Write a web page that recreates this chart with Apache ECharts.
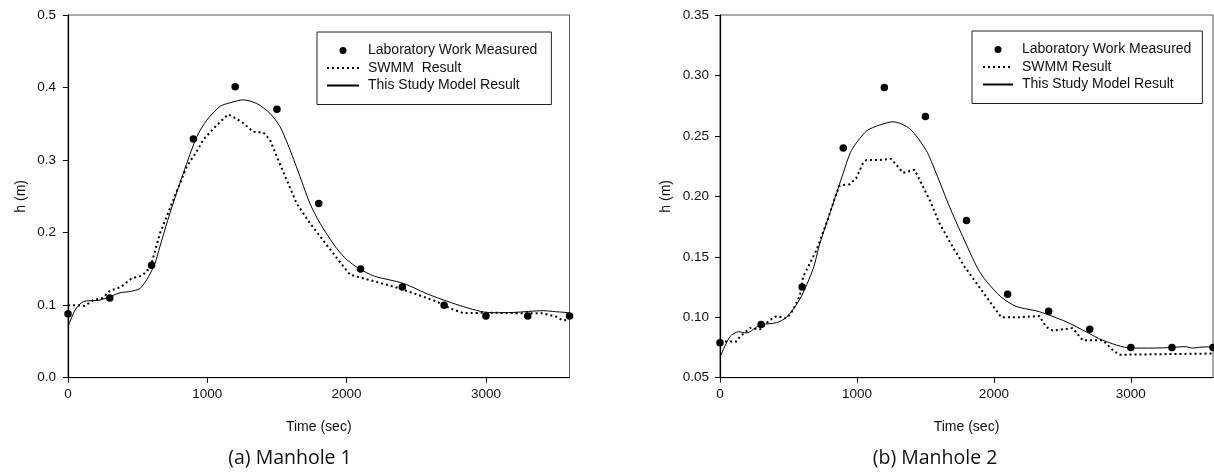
<!DOCTYPE html>
<html>
<head>
<meta charset="utf-8">
<script src="https://cdn.jsdelivr.net/npm/echarts@6/dist/echarts.min.js"></script>
<style>
html,body{margin:0;padding:0;background:#fff;}
#c{width:1214px;height:472px;}
</style>
</head>
<body>
<div id="c"></div>
<script>
// ---------- Manhole 1 ----------
const m1MeasTime = [0, 300, 600, 900, 1200, 1500, 1800, 2100, 2400, 2700, 3000, 3300, 3600];
const m1Meas     = [0.088, 0.110, 0.155, 0.329, 0.401, 0.370, 0.240, 0.150, 0.125, 0.100, 0.085, 0.085, 0.085];

const m1SwmmTime = [0, 60, 120, 182, 250, 301, 380, 457, 520, 565, 601, 660, 756, 852, 924, 971, 1067, 1150, 1200, 1258, 1330, 1402, 1450, 1498, 1570, 1642, 1737, 1857, 1950, 2024, 2100, 2216, 2383, 2500, 2647, 2750, 2838, 3029, 3200, 3400, 3508, 3550, 3600];
const m1Swmm     = [0.100, 0.100, 0.099, 0.107, 0.110, 0.120, 0.125, 0.137, 0.140, 0.146, 0.158, 0.199, 0.245, 0.291, 0.312, 0.328, 0.348, 0.363, 0.358, 0.351, 0.339, 0.338, 0.328, 0.305, 0.2725, 0.240, 0.213, 0.183, 0.160, 0.142, 0.138, 0.132, 0.123, 0.115, 0.105, 0.095, 0.089, 0.0896, 0.089, 0.089, 0.084, 0.079, 0.080];

const m1ModelTime = [0, 50, 110, 230, 373, 450, 517, 577, 625, 660, 732, 828, 924, 996, 1091, 1163, 1258, 1355, 1450, 1522, 1594, 1666, 1737, 1809, 1929, 2000, 2084, 2200, 2407, 2599, 2838, 3029, 3200, 3412, 3500, 3600];
const m1Model     = [0.070, 0.093, 0.105, 0.107, 0.117, 0.119, 0.123, 0.139, 0.158, 0.181, 0.227, 0.282, 0.332, 0.355, 0.374, 0.379, 0.383, 0.378, 0.3645, 0.346, 0.314, 0.277, 0.240, 0.213, 0.178, 0.163, 0.151, 0.140, 0.130, 0.114, 0.098, 0.0896, 0.090, 0.0924, 0.091, 0.0896];

// ---------- Manhole 2 ----------
const m2MeasTime = [0, 300, 600, 900, 1200, 1500, 1800, 2100, 2400, 2700, 3000, 3300, 3600];
const m2Meas     = [0.079, 0.094, 0.125, 0.240, 0.290, 0.266, 0.180, 0.119, 0.105, 0.090, 0.075, 0.075, 0.075];

const m2SwmmTime = [0, 121, 146, 219, 292, 364, 413, 486, 534, 583, 607, 705, 778, 850, 875, 948, 994, 1042, 1069, 1166, 1251, 1288, 1336, 1421, 1458, 1531, 1603, 1700, 1785, 1944, 2053, 2174, 2332, 2381, 2430, 2575, 2648, 2794, 2867, 2915, 3600];
const m2Swmm     = [0.080, 0.080, 0.084, 0.091, 0.090, 0.0977, 0.101, 0.099, 0.106, 0.118, 0.1335, 0.1556, 0.178, 0.2025, 0.209, 0.210, 0.215, 0.227, 0.230, 0.230, 0.231, 0.226, 0.2195, 0.222, 0.2135, 0.197, 0.1777, 0.158, 0.142, 0.117, 0.100, 0.100, 0.101, 0.092, 0.089, 0.091, 0.081, 0.081, 0.073, 0.069, 0.070];

const m2ModelTime = [0, 73, 134, 194, 292, 413, 486, 583, 680, 729, 826, 899, 960, 1069, 1166, 1263, 1385, 1506, 1579, 1676, 1773, 1883, 1944, 2050, 2162, 2332, 2527, 2673, 2794, 3000, 3158, 3300, 3397, 3450, 3490, 3550, 3600];
const m2Model     = [0.067, 0.084, 0.088, 0.087, 0.0936, 0.0955, 0.100, 0.115, 0.140, 0.161, 0.194, 0.219, 0.238, 0.254, 0.259, 0.2617, 0.256, 0.238, 0.219, 0.1914, 0.1666, 0.140, 0.130, 0.117, 0.109, 0.1046, 0.0963, 0.088, 0.081, 0.0745, 0.0745, 0.075, 0.0757, 0.0745, 0.075, 0.0755, 0.075];

// ---------- labels ----------
const xTicks = [0, 1000, 2000, 3000];
const names1 = ['Laboratory Work Measured', 'SWMM  Result', 'This Study Model Result'];
const names2 = ['Laboratory Work Measured', 'SWMM Result', 'This Study Model Result'];
const captions = ['(a) Manhole 1', '(b) Manhole 2'];
const xTitle = 'Time (sec)';
const yTitle = 'h (m)';

const zip = (a, b) => a.map((v, i) => [v, b[i]]);

const FONT = 'Liberation Sans, Arial, sans-serif';
const axisText = { fontFamily: FONT, fontSize: 13.5, color: '#111' };

function xAxisFor(gi) {
  return {
    type: 'value', gridIndex: gi, min: 0, max: 3600, interval: 1000,
    name: xTitle, nameLocation: 'middle', nameGap: 42,
    nameTextStyle: { fontFamily: FONT, fontSize: 14, color: '#111' },
    axisLine: { show: true, onZero: false, lineStyle: { color: '#000', width: 1.2 } },
    axisTick: { show: true, length: 5, lineStyle: { color: '#000' }, customValues: xTicks },
    axisLabel: Object.assign({ margin: 10, customValues: xTicks, formatter: v => String(v) }, axisText),
    splitLine: { show: false }
  };
}
function yAxisFor(gi, min, max, interval, digits, gap, lmargin) {
  return {
    type: 'value', gridIndex: gi, min: min, max: max, interval: interval,
    name: yTitle, nameLocation: 'middle', nameGap: gap,
    nameTextStyle: { fontFamily: FONT, fontSize: 14, color: '#111' },
    axisLine: { show: true, onZero: false, lineStyle: { color: '#000', width: 1.2 } },
    axisTick: { show: true, length: 5, lineStyle: { color: '#000' } },
    axisLabel: Object.assign({ margin: lmargin, formatter: v => v.toFixed(digits) }, axisText),
    splitLine: { show: false }
  };
}

function seriesFor(gi, names, measT, meas, swT, sw, moT, mo) {
  return [
    { name: names[0], type: 'scatter', xAxisIndex: gi, yAxisIndex: gi,
      data: zip(measT, meas), symbol: 'circle', symbolSize: 7.5,
      itemStyle: { color: '#000', opacity: 1 }, z: 5 },
    { name: names[1], type: 'line', xAxisIndex: gi, yAxisIndex: gi,
      data: zip(swT, sw), symbol: 'none',
      lineStyle: { color: '#000', width: 2, type: [2, 3], cap: 'butt' },
      itemStyle: { color: '#000' } },
    { name: names[2], type: 'line', xAxisIndex: gi, yAxisIndex: gi,
      data: zip(moT, mo), symbol: 'none', smooth: 0.25,
      lineStyle: { color: '#000', width: 1 },
      itemStyle: { color: '#000' } }
  ];
}

function legendFor(left, top, names, pad, iw) {
  const hidden = { color: 'rgba(0,0,0,0)', borderWidth: 0, opacity: 0 };
  return {
    orient: 'vertical', left: left, top: top,
    data: [
      { name: names[0], icon: 'circle', itemStyle: { color: '#000', opacity: 1 } },
      { name: names[1], itemStyle: hidden },
      { name: names[2], itemStyle: hidden }
    ],
    itemWidth: iw, itemHeight: 7, itemGap: 1.5,
    padding: pad,
    borderColor: '#222', borderWidth: 1, backgroundColor: '#fff',
    selectedMode: false,
    textStyle: { fontFamily: FONT, fontSize: 14, color: '#111', lineHeight: 16, padding: [0, 0, 0, 4] }
  };
}

const capStyle = { fontFamily: 'Open Sans, Noto Sans, sans-serif', fontSize: 19.5, fill: '#111', align: 'center', verticalAlign: 'middle' };

const chart = echarts.init(document.getElementById('c'), null, { renderer: 'canvas' });
chart.setOption({
  animation: false,
  backgroundColor: '#fff',
  grid: [
    { left: 68, top: 15, width: 501.5, height: 362.7, show: true, borderColor: '#555', borderWidth: 1 },
    { left: 720, top: 15, width: 493, height: 362.7, show: true, borderColor: '#555', borderWidth: 1 }
  ],
  xAxis: [xAxisFor(0), xAxisFor(1)],
  yAxis: [
    yAxisFor(0, 0, 0.5, 0.1, 1, 40, 12),
    yAxisFor(1, 0.05, 0.35, 0.05, 2, 47, 11)
  ],
  legend: [
    legendFor(317, 32, names1, [10.5, 14, 11, 9], 32),
    legendFor(972, 31, names2, [10.5, 11, 11, 10], 30)
  ],
  series: [].concat(
    seriesFor(0, names1, m1MeasTime, m1Meas, m1SwmmTime, m1Swmm, m1ModelTime, m1Model),
    seriesFor(1, names2, m2MeasTime, m2Meas, m2SwmmTime, m2Swmm, m2ModelTime, m2Model)
  ),
  graphic: [
    { type: 'text', x: 290, y: 458, style: Object.assign({ text: captions[0] }, capStyle) },
    { type: 'text', x: 935, y: 458, style: Object.assign({ text: captions[1] }, capStyle) }
  ]
});
</script>
</body>
</html>
